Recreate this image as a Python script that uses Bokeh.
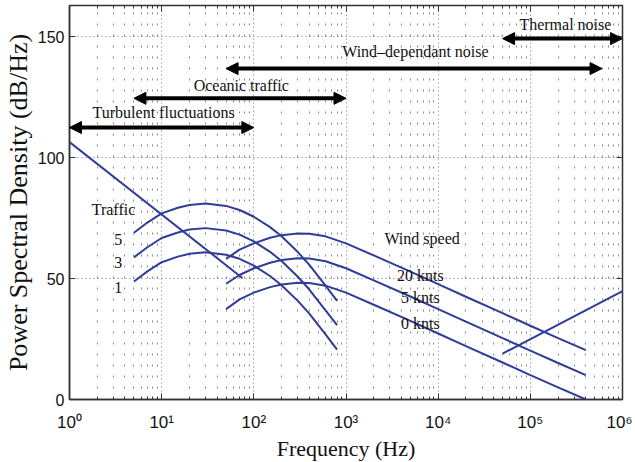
from bokeh.plotting import figure
from bokeh.models import (FixedTicker, LogAxis, LinearAxis, Arrow, NormalHead,
                          ColumnDataSource, Range1d)
from bokeh.core.properties import value
from bokeh.embed import file_html
from bokeh.resources import INLINE

# ---------------- data ----------------
turb_freq = [1, 75]
turb_db = [106.5, 50.3]

traffic_freq = [5, 7, 10, 15, 20, 30, 50, 70, 100, 150, 200, 300, 400, 600, 800]
traffic_5 = [69.0, 73.2, 77.0, 79.3, 80.5, 81.1, 80.1, 78.4, 75.6, 71.3, 67.5, 61.0, 55.7, 47.1, 40.8]
traffic_3 = [58.8, 63.0, 66.8, 69.1, 70.3, 70.9, 69.9, 68.2, 65.4, 61.1, 57.3, 50.8, 45.5, 36.9, 30.8]
traffic_1 = [48.8, 53.0, 56.8, 59.1, 60.3, 60.9, 59.9, 58.2, 55.4, 51.1, 47.3, 40.8, 35.5, 26.9, 20.6]

wind_freq = [50, 70, 100, 150, 200, 300, 400, 600, 1e3, 2e3, 5e3, 1e4, 2e4, 5e4, 1e5, 2e5, 4e5]
wind_20 = [58.2, 62.0, 64.6, 66.9, 68.0, 68.7, 68.6, 67.5, 64.6, 59.6, 52.9, 47.7, 42.5, 35.7, 30.5, 25.4, 20.4]
wind_5 = [47.9, 51.5, 54.3, 56.6, 57.7, 58.4, 58.3, 57.2, 54.3, 49.3, 42.6, 37.4, 32.2, 25.4, 20.2, 15.1, 10.1]
wind_0 = [37.4, 41.4, 44.2, 46.5, 47.6, 48.3, 48.2, 47.1, 44.2, 39.2, 32.5, 27.3, 22.1, 15.3, 10.1, 5.0, 0.0]

thermal_freq = [5e4, 1e6]
thermal_db = [19.0, 44.8]

# range arrows (double headed)
band_names = ["Turbulent fluctuations", "Oceanic traffic", "Wind\u2013dependant noise", "Thermal noise"]
band_start = [1, 5, 50, 5e4]
band_end = [100, 1000, 6e5, 1e6]
band_level = [112.5, 124.6, 136.9, 149.3]
band_label_x = [10.5, 73, 5660, 2.4e5]
band_label_y = [118.8, 130.0, 144.0, 155.2]

# curve annotations
note_text = ["Traffic", "5", "3", "1", "Wind speed", "20 knts", "5 knts", "0 knts"]
note_x = [3.0, 3.37, 3.37, 3.37, 6690, 6410, 6410, 6410]
note_y = [78.4, 66.2, 56.8, 46.2, 66.6, 51.5, 42.3, 31.5]

x_major = [1, 10, 100, 1e3, 1e4, 1e5, 1e6]
x_labels = ["10\u2070", "10\u00b9", "10\u00b2", "10\u00b3", "10\u2074", "10\u2075", "10\u2076"]
y_major = [0, 50, 100, 150]

# ---------------- figure ----------------
x_minor = [m * d for d in x_major[:-1] for m in range(2, 10)]

p = figure(x_axis_type="log", x_range=Range1d(1, 1e6), y_range=Range1d(0, 163),
           frame_width=553, frame_height=394, output_backend="svg",
           toolbar_location=None, min_border_left=0, min_border_right=10,
           min_border_top=5, min_border_bottom=0, background_fill_color="white",
           border_fill_color="white")

p.outline_line_color = "#333333"
p.outline_line_width = 1.5

xt = FixedTicker(ticks=x_major, minor_ticks=x_minor)
yt = FixedTicker(ticks=y_major, minor_ticks=[])

ax = p.xaxis[0]
ax.ticker = xt
ax.major_label_overrides = {t: l for t, l in zip(x_major, x_labels)}
ax.major_label_text_font = "Liberation Sans"
ax.major_label_text_font_size = "17px"
ax.major_label_text_color = "#111111"
ax.major_label_standoff = 13
ax.axis_label = "Frequency (Hz)"
ax.axis_label_text_font = "Liberation Serif"
ax.axis_label_text_font_size = "22px"
ax.axis_label_text_font_style = "normal"
ax.axis_label_text_color = "#111111"
ax.axis_label_standoff = 1
ax.major_tick_in = 6
ax.major_tick_out = 0
ax.minor_tick_in = 3
ax.minor_tick_out = 0
ax.axis_line_color = "#333333"
ax.axis_line_width = 1.5
ax.major_tick_line_color = "#333333"
ax.minor_tick_line_color = "#333333"

ay = p.yaxis[0]
ay.ticker = yt
ay.major_label_text_font = "Liberation Sans"
ay.major_label_text_font_size = "16px"
ay.major_label_text_color = "#111111"
ay.major_label_standoff = 5
ay.axis_label = "Power Spectral Density (dB/Hz)"
ay.axis_label_text_font = "Liberation Serif"
ay.axis_label_text_font_size = "26px"
ay.axis_label_text_font_style = "normal"
ay.axis_label_text_color = "#111111"
ay.axis_label_standoff = 2
ay.major_tick_in = 6
ay.major_tick_out = 0
ay.minor_tick_in = 0
ay.minor_tick_out = 0
ay.axis_line_color = "#333333"
ay.axis_line_width = 1.5
ay.major_tick_line_color = "#333333"

top = LogAxis(ticker=FixedTicker(ticks=x_major, minor_ticks=x_minor),
              major_label_text_font_size="1px", major_label_text_color=None,
              major_label_standoff=0,
              major_tick_in=6, major_tick_out=0, minor_tick_in=3, minor_tick_out=0,
              axis_line_color=None, major_tick_line_color="#333333",
              minor_tick_line_color="#333333")
p.add_layout(top, "above")
right = LinearAxis(ticker=FixedTicker(ticks=y_major, minor_ticks=[]),
                   major_label_text_font_size="1px", major_label_text_color=None,
                   major_label_standoff=0,
                   major_tick_in=6, major_tick_out=0, minor_tick_in=0, minor_tick_out=0,
                   axis_line_color=None, major_tick_line_color="#333333")
p.add_layout(right, "right")

p.xgrid.grid_line_color = "#777777"
p.xgrid.grid_line_dash = "1 3"
p.xgrid.minor_grid_line_color = "#888888"
p.xgrid.minor_grid_line_dash = "2 9"
p.ygrid.ticker = yt
p.ygrid.grid_line_color = "#777777"
p.ygrid.grid_line_dash = "1 3"

blue = "#2f3c99"
for xs, ys in [(turb_freq, turb_db),
               (traffic_freq, traffic_5), (traffic_freq, traffic_3), (traffic_freq, traffic_1),
               (wind_freq, wind_20), (wind_freq, wind_5), (wind_freq, wind_0),
               (thermal_freq, thermal_db)]:
    p.line(xs, ys, line_color=blue, line_width=2)

arr_src = ColumnDataSource(dict(x0=band_start, x1=band_end, y=band_level))
p.add_layout(Arrow(source=arr_src, x_start="x0", y_start="y", x_end="x1", y_end="y",
                   line_width=4, line_color="black",
                   start=NormalHead(size=12, fill_color="black", line_color="black"),
                   end=NormalHead(size=12, fill_color="black", line_color="black")))

lab_src = ColumnDataSource(dict(x=band_label_x + note_x, y=band_label_y + note_y,
                                t=band_names + note_text))
p.text(x="x", y="y", text="t", source=lab_src, text_font=value("Liberation Serif"),
       text_font_size="16px", text_align="center", text_baseline="middle",
       text_color="#111111")

open("out.html", "w").write(file_html(p, INLINE))
